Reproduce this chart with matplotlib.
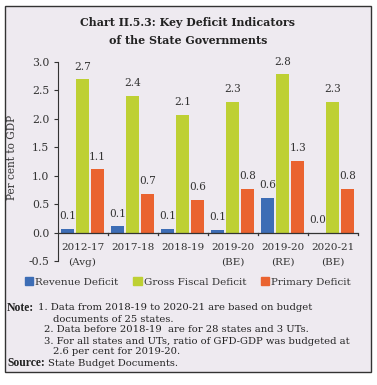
import matplotlib
matplotlib.use("Agg")
import matplotlib.pyplot as plt
import numpy as np
from matplotlib.patches import Rectangle

categories = ["2012-17\n(Avg)", "2017-18", "2018-19", "2019-20\n(BE)", "2019-20\n(RE)", "2020-21\n(BE)"]
revenue_deficit = [0.06, 0.11, 0.07, 0.05, 0.61, -0.01]
gross_fiscal_deficit = [2.69, 2.40, 2.07, 2.30, 2.78, 2.29]
primary_deficit = [1.11, 0.68, 0.58, 0.77, 1.26, 0.77]
series_names = ["Revenue Deficit", "Gross Fiscal Deficit", "Primary Deficit"]
colors = ["#3D6DB5", "#BED033", "#EA6330"]

plt.rcParams['font.family'] = ['DejaVu Serif']
bg = "#EEEAF0"

fig = plt.figure(figsize=(3.77, 3.85), dpi=100)
fig.patch.set_facecolor("white")
fig.patches.append(Rectangle((5/377, 1-372/385), 366/377, 366/385, transform=fig.transFigure,
                             facecolor=bg, edgecolor="#333333", linewidth=1.0, zorder=-10))

fig.text(188/377, 1-23/385, "Chart II.5.3: Key Deficit Indicators", ha="center", va="center",
         fontsize=7.9, fontweight="bold", color="#222222")
fig.text(188/377, 1-41/385, "of the State Governments", ha="center", va="center",
         fontsize=7.9, fontweight="bold", color="#222222")

ax = fig.add_axes([57.5/377, 1-261/385, (357.7-57.5)/377, (261-61.7)/385])
ax.set_zorder(1)
ax.set_facecolor("none")
x = np.arange(len(categories))
w = 0.26
offs = [-0.3, 0.0, 0.3]
for vals, off, c, name in zip([revenue_deficit, gross_fiscal_deficit, primary_deficit], offs, colors, series_names):
    ax.bar(x + off, vals, width=w, color=c, label=name, zorder=2)
    for xi, v in zip(x + off, vals):
        ax.annotate(f"{abs(v):.1f}" if abs(v) < 0.05 else f"{v:.1f}", (xi, max(v, 0)), xytext=(0, 5.5),
                    textcoords="offset points", ha="center", va="bottom", fontsize=7.6, color="#333333")

ax.set_xlim(-0.5, len(categories) - 0.5)
ax.set_ylim(-0.5, 3.0)
ax.set_yticks([-0.5, 0.0, 0.5, 1.0, 1.5, 2.0, 2.5, 3.0])
ax.set_yticklabels(["-0.5", "0.0", "0.5", "1.0", "1.5", "2.0", "2.5", "3.0"], fontsize=7.8, color="#333333")
ax.set_ylabel("Per cent to GDP", fontsize=7.6, color="#333333", labelpad=4)
ax.yaxis.set_label_coords(-0.135, 0.52)
for s in ["top", "right", "bottom"]:
    ax.spines[s].set_visible(False)
ax.spines["left"].set_color("#333333")
ax.axhline(0, color="#333333", linewidth=0.9, zorder=3)
ax.tick_params(axis="y", length=3, color="#333333", pad=3)
ax.set_xticks([])
for b in np.arange(0.5, len(categories) - 0.5 + 0.01, 1.0):
    ax.plot([b, b], [0, -0.05], color="#333333", linewidth=0.9, clip_on=False, zorder=3)
for xi, lab in zip(x, categories):
    ax.text(xi, -0.19, lab, ha="center", va="top", fontsize=7.5, color="#333333", linespacing=1.75)

handles = [Rectangle((0, 0), 1, 1, color=c) for c in colors]
fig.legend(handles, series_names, loc="center", bbox_to_anchor=(188/377, 1-282/385), ncol=3,
           frameon=False, fontsize=7.5, handlelength=0.8, handleheight=0.8, handletextpad=0.2,
           columnspacing=1.4, labelcolor="#333333")

fs = 7.2
def t(xp, yp, s, bold=False):
    return fig.text(xp/377, 1-yp/385, s, ha="left", va="center", fontsize=8.4 if bold else fs,
                    family="Liberation Serif" if bold else "DejaVu Serif",
                    fontweight="bold" if bold else "normal", color="#222222")
note = t(7, 308, "Note:", bold=True)
ax.annotate("1. Data from 2018-19 to 2020-21 are based on budget", xy=(1, 0.5), xycoords=note,
            xytext=(2.5, 0), textcoords="offset points", ha="left", va="center", fontsize=fs, color="#222222")
t(53, 319, "documents of 25 states.")
t(44, 330, "2. Data before 2018-19  are for 28 states and 3 UTs.")
t(44, 341, "3. For all states and UTs, ratio of GFD-GDP was budgeted at")
t(53, 352, "2.6 per cent for 2019-20.")
src = t(7, 363, "Source:", bold=True)
ax.annotate("State Budget Documents.", xy=(1, 0.5), xycoords=src,
            xytext=(2.5, 0), textcoords="offset points", ha="left", va="center", fontsize=fs, color="#222222")

fig.savefig("out.png", dpi=100)
